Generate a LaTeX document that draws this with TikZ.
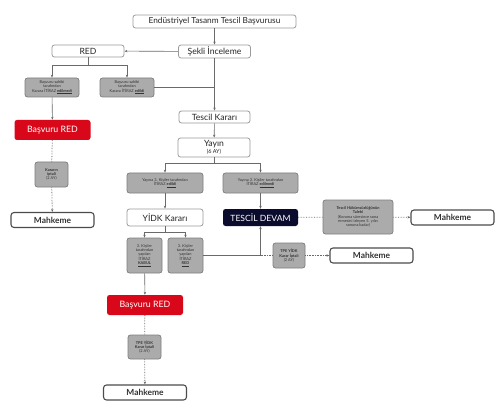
\documentclass[tikz,border=0pt]{standalone}
\usepackage{fontspec}
\setmainfont{Lato}
\usetikzlibrary{arrows.meta,positioning}
\definecolor{boxline}{HTML}{9A9A9A}
\definecolor{grayfill}{HTML}{ABABAB}
\definecolor{grayline}{HTML}{7E7E7E}
\definecolor{redfill}{HTML}{D8081A}
\definecolor{navy}{HTML}{0B0B2E}
\definecolor{lineg}{HTML}{6A6A6A}
\tikzset{
  wbox/.style={draw=boxline, line width=0.8pt, fill=white, rounded corners=2.5pt, inner sep=0pt,
     font=\fontsize{8.6}{9}\selectfont, text=black!85},
  mbox/.style={draw=black!70, line width=1.1pt, fill=white, rounded corners=3pt, inner sep=0pt,
     minimum width=83pt, minimum height=15pt, font=\fontsize{8.4}{9}\selectfont\bfseries, text=black!80},
  gbox/.style={draw=grayline, line width=0.7pt, fill=grayfill, rounded corners=2.5pt, inner sep=0.5pt,
     align=center, font=\fontsize{3.9}{4.3}\selectfont, text=black!80},
  rbox/.style={fill=redfill, rounded corners=2.5pt, minimum width=76pt, minimum height=20pt,
     font=\fontsize{8.8}{9}\selectfont, text=white, inner sep=0pt},
  conn/.style={draw=lineg, line width=0.6pt},
  arr/.style={conn, -{Stealth[length=3pt,width=2.4pt]}},
  dotarr/.style={conn, densely dotted, line width=0.8pt, -{Stealth[length=3pt,width=2.4pt]}},
  dotln/.style={conn, densely dotted, line width=0.8pt},
}
\begin{document}
\begin{tikzpicture}[x=1pt,y=-1pt]
\useasboundingbox (0,0) rectangle (500,406);
% top column
\node[wbox, minimum width=163pt, minimum height=13pt, font=\fontsize{8.3}{9}\selectfont] (title) at (214.5,21.5) {Endüstriyel Tasanm Tescil Başvurusu};
\node[wbox, minimum width=72pt, minimum height=13pt] (sekli) at (214.5,51.5) {Şekli İnceleme};
\node[wbox, minimum width=72pt, minimum height=12pt] (red) at (88,51) {RED};
\node[gbox, minimum width=54pt, minimum height=19pt] (g1) at (52,87.5) {Başvuru sahibi\\tarafından\\Karara İTİRAZ \underline{\textbf{edilmedi}}};
\node[gbox, minimum width=54pt, minimum height=19pt] (g2) at (127,87.5) {Başvuru sahibi\\tarafından\\Karara İTİRAZ \underline{\textbf{edildi}}};
\node[wbox, minimum width=71pt, minimum height=12pt] (tk) at (214.5,117) {Tescil Kararı};
\node[rbox] (bred1) at (52.5,130) {Başvuru RED};
\node[wbox, minimum width=72pt, minimum height=19pt, align=center, font=\fontsize{8.6}{6}\selectfont] (yayin) at (214,147.5) {Yayın\\[0.5pt]{\fontsize{5.5}{5}\selectfont (6 AY)}};
\node[gbox, minimum width=33pt, minimum height=25pt] (ki) at (51.5,174.5) {\textbf{Kararın}\\\textbf{iptali}\\(2 AY)};
\node[mbox] (m1) at (52.5,220) {Mahkeme};
\node[gbox, minimum width=76pt, minimum height=20pt] (ye) at (165,183) {Yayına 3. Kişiler tarafından\\İTİRAZ \underline{\textbf{edildi}}};
\node[gbox, minimum width=75pt, minimum height=20pt] (ym) at (260.5,183) {Yayına 3. Kişiler tarafından\\İTİRAZ \underline{\textbf{edilmedi}}};
\node[wbox, minimum width=76pt, minimum height=17pt] (yidk) at (165,217.5) {YİDK Kararı};
\node[fill=navy, rounded corners=2.5pt, minimum width=75pt, minimum height=17pt, inner sep=0pt,
  font=\fontsize{8.6}{9}\selectfont, text=white] (td) at (260.5,217.5) {TESCİL DEVAM};
\node[gbox, minimum width=70pt, minimum height=34pt] (th) at (358,217) {\textbf{Tescil Hükümsüzlüğünün}\\\textbf{Talebi}\\(Koruma süresince sona\\ermesini izleyen 5. yılın\\sonuna kadar)};
\node[mbox] (m2) at (452.5,217.5) {Mahkeme};
\node[gbox, minimum width=35pt, minimum height=35pt] (kabul) at (144.5,255.5) {3. Kişiler\\tarafından\\yapılan\\İTİRAZ\\\underline{\textbf{KABUL}}};
\node[gbox, minimum width=35pt, minimum height=35pt] (ired) at (185.5,255.5) {3. Kişiler\\tarafından\\yapılan\\İTİRAZ\\\underline{\textbf{RED}}};
\node[gbox, minimum width=32pt, minimum height=25pt] (tpe1) at (289,255.5) {\textbf{TPE YİDK}\\\textbf{Karar İptali}\\(2 AY)};
\node[mbox] (m3) at (371.5,255.5) {Mahkeme};
\node[rbox] (bred2) at (145,305) {Başvuru RED};
\node[gbox, minimum width=33pt, minimum height=24pt] (tpe2) at (144.5,347) {\textbf{TPE YİDK}\\\textbf{Karar İptali}\\(2 AY)};
\node[mbox] (m4) at (145,392.5) {Mahkeme};
% connectors
\draw[arr] (title) -- (sekli);
\draw[arr] (sekli) -- (red);
\coordinate (rj) at (red.south |- 0,65);
\draw[conn] (red.south) -- (rj);
\draw[arr] (rj) -| (g1.north);
\draw[arr] (rj) -| (g2.north);
\draw[arr] (sekli) -- (tk);
\draw[conn] (g2.east) -- (g2.east -| sekli.south);
\draw[arr] (g1) -- (bred1);
\draw[dotln] (bred1) -- (ki);
\draw[dotarr] (ki) -- (m1);
\draw[arr] (tk) -- (yayin);
\coordinate (yj) at (yayin.south |- 0,163);
\draw[conn] (yayin.south) -- (yj);
\draw[arr] (yj) -| (ye.north);
\draw[arr] (yj) -| (ym.north);
\draw[arr] (ye) -- (yidk);
\draw[arr] (ym) -- (td);
\coordinate (kj) at (yidk.south |- 0,232);
\draw[conn] (yidk.south) -- (kj);
\draw[arr] (kj) -| (kabul.north);
\draw[arr] (kj) -| (ired.north);
\draw[arr] (kabul) -- (bred2);
\coordinate (cr) at (td.south |- ired.east);
\draw[arr] (ired.east) -- (cr) -- (td.south);
\draw[dotln] (cr) -- (tpe1.west);
\draw[dotarr] (tpe1) -- (m3);
\draw[dotln] (td) -- (th);
\draw[dotarr] (th) -- (m2);
\draw[dotln] (bred2) -- (tpe2);
\draw[dotarr] (tpe2) -- (m4);
\end{tikzpicture}
\end{document}
